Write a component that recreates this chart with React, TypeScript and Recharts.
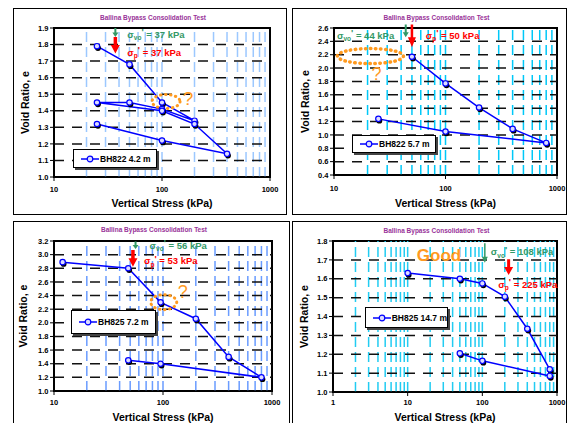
import React from 'react';
import { LineChart, Line, XAxis, YAxis, ReferenceLine, ReferenceDot, ReferenceArea, Legend, Label } from 'recharts';

const FONT = '"Liberation Sans", Arial, Helvetica, sans-serif';

// ---- data ----
// BH822 4.2 m
const bh822a_stress = [25, 50, 100, 200, 100, 50, 25, 100, 200, 400, 100, 25];
const bh822a_void = [1.79, 1.68, 1.45, 1.34, 1.41, 1.45, 1.45, 1.40, 1.32, 1.14, 1.22, 1.32];
// BH822 5.7 m
const bh822b_stress = [50, 100, 200, 400, 800, 100, 25];
const bh822b_void = [2.17, 1.77, 1.41, 1.09, 0.88, 1.05, 1.24];
// BH825 7.2 m
const bh825a_stress = [12, 48, 95, 200, 400, 800, 95, 48];
const bh825a_void = [2.89, 2.8, 2.3, 2.06, 1.5, 1.2, 1.4, 1.45];
// BH825 14.7 m
const bh825b_stress = [10, 50, 100, 200, 400, 800, 800, 100, 50];
const bh825b_void = [1.63, 1.6, 1.575, 1.505, 1.335, 1.12, 1.085, 1.165, 1.205];

// ---- tick labels ----
const xTicks3 = [10, 100, 1000];
const xTicks4 = [1, 10, 100, 1000];
const yTicks822a = [1.0, 1.1, 1.2, 1.3, 1.4, 1.5, 1.6, 1.7, 1.8, 1.9];
const yTicks822b = [0.4, 0.6, 0.8, 1.0, 1.2, 1.4, 1.6, 1.8, 2.0, 2.2, 2.4, 2.6];
const yTicks825a = [1.0, 1.2, 1.4, 1.6, 1.8, 2.0, 2.2, 2.4, 2.6, 2.8, 3.0, 3.2];
const yTicks825b = [1.0, 1.1, 1.2, 1.3, 1.4, 1.5, 1.6, 1.7, 1.8];

const labels = ['BH822 4.2 m', 'BH822 5.7 m', 'BH825 7.2 m', 'BH825 14.7 m'];
const titleText = 'Ballina Bypass Consolidation Test';

const GREEN = '#339966';
const RED = '#ff0000';
const ORANGE = '#ff9a1f';

type ArrowSpec = { x: number; color: string; from: number; to: number; shaft: number; headW: number; headL: number };
type NoteSpec = { x: number; color: string; sub: string; value: string; dx: number; dy: number; anchor: 'start' | 'end' };
type EllipseSpec = { x: number; y: number; rx: number; ry: number; qdx: number; qdy: number; qsize: number; sw: number };

type PanelCfg = {
  stress: number[];
  voids: number[];
  label: string;
  box: { left: number; top: number; w: number; h: number };
  margin: { top: number; right: number };
  yw: number;
  xh: number;
  xDomain: [number, number];
  xTicks: number[];
  yTicks: number[];
  grid: string;
  tickMargin: number;
  xLabelOffset: number;
  yLabelOffset: number;
  title: { cx: number; cy: number };
  legend: { left: number; top: number; w: number; h: number };
  arrows: ArrowSpec[];
  notes: NoteSpec[];
  ellipse?: EllipseSpec;
  good?: { x: number; dy: number };
};

function minorX(domain: [number, number]) {
  const out: number[] = [];
  for (let d = domain[0]; d < domain[1]; d *= 10) {
    for (let k = 1; k <= 9; k++) {
      const v = d * k;
      if (v > domain[0] && v < domain[1]) out.push(v);
    }
  }
  return out;
}

function minorY(ticks: number[]) {
  const out: number[] = [];
  const step = ticks[1] - ticks[0];
  for (let i = 0; i < ticks.length - 1; i++) {
    for (let k = 1; k < 5; k++) out.push(+(ticks[i] + (step * k) / 5).toFixed(4));
  }
  return out;
}

function arrowShape(a: ArrowSpec) {
  return (props: any) => {
    const cx = Number(props.x1);
    const top = Math.min(Number(props.y1), Number(props.y2));
    const y0 = top + a.from;
    const y1 = top + a.to;
    const yh = y1 - a.headL;
    const pts = [
      [cx - a.shaft / 2, y0],
      [cx + a.shaft / 2, y0],
      [cx + a.shaft / 2, yh],
      [cx + a.headW / 2, yh],
      [cx, y1],
      [cx - a.headW / 2, yh],
      [cx - a.shaft / 2, yh],
    ]
      .map((p) => p.join(','))
      .join(' ');
    return <polygon points={pts} fill={a.color} />;
  };
}

function noteShape(n: NoteSpec) {
  return (props: any) => {
    const cx = Number(props.x1);
    const top = Math.min(Number(props.y1), Number(props.y2));
    return (
      <text
        x={cx + n.dx}
        y={top + n.dy}
        fill={n.color}
        fontSize={9.5}
        fontWeight="bold"
        fontFamily={FONT}
        textAnchor={n.anchor}
      >
        σ
        <tspan dy={2.5} fontSize={6.5}>
          {n.sub}
        </tspan>
        <tspan dy={-5} fontSize={9.5}>
          '
        </tspan>
        <tspan dy={2.5}>{` = ${n.value} kPa`}</tspan>
      </text>
    );
  };
}

function ellipseShape(e: EllipseSpec) {
  return (props: any) => {
    const cx = Number(props.cx);
    const cy = Number(props.cy);
    return (
      <g>
        <ellipse
          cx={cx}
          cy={cy}
          rx={e.rx}
          ry={e.ry}
          fill="none"
          stroke={ORANGE}
          strokeWidth={e.sw}
          strokeDasharray="0.5 4.5"
          strokeLinecap="round"
        />
        <text
          x={cx + e.qdx}
          y={cy + e.qdy}
          fill={ORANGE}
          fontSize={e.qsize}
          fontFamily={FONT}
          textAnchor="middle"
          dominantBaseline="central"
        >
          ?
        </text>
      </g>
    );
  };
}

function goodShape(dy: number) {
  return (props: any) => {
    const cx = Number(props.x1);
    const top = Math.min(Number(props.y1), Number(props.y2));
    return (
      <text
        x={cx}
        y={top + dy}
        fill={ORANGE}
        fontSize={17}
        fontWeight="bold"
        fontFamily={FONT}
        textAnchor="middle"
        dominantBaseline="central"
      >
        Good
      </text>
    );
  };
}

const renderDot = (props: any) => {
  const { cx, cy, index } = props;
  if (cx == null || cy == null) return <g key={`d${index}`} />;
  return (
    <g key={`d${index}`}>
      <circle cx={cx + 1} cy={cy + 1.8} r={2.9} fill="#000" />
      <circle cx={cx} cy={cy} r={2.7} fill="#dcdcff" stroke="#0000ff" strokeWidth={1.2} />
    </g>
  );
};

const emptyTick = () => <g />;

const LegendBox = ({ label, w, h }: { label: string; w: number; h: number }) => (
  <div
    style={{
      width: w,
      height: h,
      boxSizing: 'border-box',
      border: '1px solid #000',
      boxShadow: '2px 2px 0 #444',
      background: '#fff',
      display: 'flex',
      alignItems: 'center',
      paddingLeft: 7,
      fontFamily: FONT,
      fontSize: 8.5,
      fontWeight: 'bold',
      color: '#000',
      whiteSpace: 'nowrap',
    }}
  >
    <svg width={18} height={10} style={{ display: 'block' }}>
      <line x1={0} y1={5} x2={18} y2={5} stroke="#0000ff" strokeWidth={1.5} />
      <circle cx={9} cy={5} r={2.8} fill="#dcdcff" stroke="#0000ff" strokeWidth={1.2} />
    </svg>
    <span style={{ marginLeft: 1 }}>{label}</span>
  </div>
);

const tickStyle = { fontSize: 7.5, fontWeight: 'bold' as const, fill: '#000', fontFamily: FONT };

function Panel({ cfg }: { cfg: PanelCfg }) {
  const data = cfg.stress.map((s, i) => ({ s, e: cfg.voids[i] }));
  const yDomain: [number, number] = [cfg.yTicks[0], cfg.yTicks[cfg.yTicks.length - 1]];
  const vLines = minorX(cfg.xDomain);
  const hLines = cfg.yTicks.slice(1, -1);
  const { box } = cfg;
  return (
    <div style={{ position: 'absolute', left: box.left, top: box.top, width: box.w, height: box.h }}>
      <div
        style={{
          position: 'absolute',
          left: 0,
          top: 0,
          width: box.w,
          height: box.h,
          border: '1px solid #000',
          boxSizing: 'border-box',
          background: '#fff',
        }}
      />
      <div
        style={{
          position: 'absolute',
          left: cfg.title.cx - 100,
          top: cfg.title.cy - 4,
          width: 200,
          height: 8,
          lineHeight: '8px',
          textAlign: 'center',
          fontFamily: FONT,
          fontSize: 6.5,
          fontWeight: 'bold',
          color: '#993399',
          whiteSpace: 'nowrap',
        }}
      >
        {titleText}
      </div>
      <div style={{ position: 'absolute', left: 0, top: 0 }}>
        <LineChart width={box.w} height={box.h} margin={{ top: cfg.margin.top, right: cfg.margin.right, bottom: 0, left: 0 }}>
          <XAxis
            dataKey="s"
            type="number"
            scale="log"
            domain={cfg.xDomain}
            ticks={cfg.xTicks}
            interval={0}
            allowDataOverflow
            height={cfg.xh}
            tickSize={4}
            tickMargin={cfg.tickMargin}
            tick={tickStyle}
            stroke="#000"
            axisLine={{ stroke: '#000', strokeWidth: 1.5 }}
          >
            <Label
              value="Vertical Stress (kPa)"
              position="insideBottom"
              offset={cfg.xLabelOffset}
              style={{ fontSize: 10.5, fontWeight: 'bold', fill: '#000', fontFamily: FONT }}
            />
          </XAxis>
          <XAxis
            xAxisId="m"
            dataKey="s"
            type="number"
            scale="log"
            domain={cfg.xDomain}
            ticks={vLines}
            interval={0}
            allowDataOverflow
            height={0}
            mirror
            tickSize={3}
            tick={emptyTick}
            axisLine={false}
            tickLine={{ stroke: '#000' }}
          />
          <YAxis
            type="number"
            domain={yDomain}
            ticks={cfg.yTicks}
            interval={0}
            allowDataOverflow
            width={cfg.yw}
            tickSize={4}
            tickMargin={1.5}
            tick={tickStyle}
            tickFormatter={(v: number) => v.toFixed(1)}
            stroke="#000"
            axisLine={{ stroke: '#000', strokeWidth: 1.5 }}
          >
            <Label
              value="Void Ratio, e"
              angle={-90}
              position="insideLeft"
              offset={cfg.yLabelOffset}
              style={{ fontSize: 10.5, fontWeight: 'bold', fill: '#000', fontFamily: FONT, textAnchor: 'middle' }}
            />
          </YAxis>
          <YAxis
            yAxisId="m"
            type="number"
            domain={yDomain}
            ticks={minorY(cfg.yTicks)}
            interval={0}
            allowDataOverflow
            width={0}
            mirror
            tickSize={3}
            tick={emptyTick}
            axisLine={false}
            tickLine={{ stroke: '#000' }}
          />
          {vLines.map((v) => (
            <ReferenceLine key={`v${v}`} x={v} stroke={cfg.grid} strokeWidth={1.5} strokeDasharray="10 5" />
          ))}
          {hLines.map((v) => (
            <ReferenceLine key={`h${v}`} y={v} stroke="#111" strokeWidth={1.5} strokeDasharray="10 8" />
          ))}
          <ReferenceArea
            x1={cfg.xDomain[0]}
            x2={cfg.xDomain[1]}
            y1={yDomain[0]}
            y2={yDomain[1]}
            fill="none"
            fillOpacity={0}
            stroke="#000"
            strokeWidth={2}
          />
          <Line
            data={data}
            dataKey="e"
            stroke="#0000ff"
            strokeWidth={1.5}
            dot={renderDot}
            activeDot={false}
            isAnimationActive={false}
            legendType="circle"
          />
          {cfg.arrows.map((a, i) => (
            <ReferenceLine key={`a${i}`} x={a.x} stroke="none" shape={arrowShape(a)} />
          ))}
          {cfg.notes.map((n, i) => (
            <ReferenceLine key={`n${i}`} x={n.x} stroke="none" shape={noteShape(n)} />
          ))}
          {cfg.good && <ReferenceLine x={cfg.good.x} stroke="none" shape={goodShape(cfg.good.dy)} />}
          {cfg.ellipse && (
            <ReferenceDot x={cfg.ellipse.x} y={cfg.ellipse.y} r={1} shape={ellipseShape(cfg.ellipse)} />
          )}
          <Legend
            layout="vertical"
            align="center"
            verticalAlign="middle"
            wrapperStyle={{
              left: cfg.legend.left,
              top: cfg.legend.top,
              width: cfg.legend.w,
              height: cfg.legend.h,
              margin: 0,
              padding: 0,
            }}
            content={() => <LegendBox label={cfg.label} w={cfg.legend.w} h={cfg.legend.h} />}
          />
        </LineChart>
      </div>
    </div>
  );
}

const panels: PanelCfg[] = [
  {
    stress: bh822a_stress,
    voids: bh822a_void,
    label: labels[0],
    box: { left: 13, top: 8, w: 274, h: 207 },
    margin: { top: 20, right: 17 },
    yw: 41,
    xh: 38,
    xDomain: [10, 1000],
    xTicks: xTicks3,
    yTicks: yTicks822a,
    grid: '#9cc8ff',
    tickMargin: 6,
    xLabelOffset: 8,
    yLabelOffset: 12,
    title: { cx: 140, cy: 9.5 },
    legend: { left: 60, top: 141, w: 84, h: 19 },
    arrows: [
      { x: 37, color: GREEN, from: 0, to: 9, shaft: 2, headW: 6, headL: 4.5 },
      { x: 37, color: RED, from: 9, to: 25.5, shaft: 3.5, headW: 9, headL: 8.5 },
    ],
    notes: [
      { x: 37, color: GREEN, sub: 'vo', value: '37', dx: 12, dy: 9.5, anchor: 'start' },
      { x: 37, color: RED, sub: 'p', value: '37', dx: 12, dy: 27.5, anchor: 'start' },
    ],
    ellipse: { x: 109, y: 1.456, rx: 14, ry: 7, qdx: 22, qdy: -3.5, qsize: 19, sw: 3 },
  },
  {
    stress: bh822b_stress,
    voids: bh822b_void,
    label: labels[1],
    box: { left: 292, top: 8, w: 275, h: 207 },
    margin: { top: 20, right: 10 },
    yw: 42,
    xh: 40,
    xDomain: [10, 1000],
    xTicks: xTicks3,
    yTicks: yTicks822b,
    grid: '#00c8f8',
    tickMargin: 7,
    xLabelOffset: 8.5,
    yLabelOffset: 13.5,
    title: { cx: 144.5, cy: 9.5 },
    legend: { left: 60, top: 127, w: 84, h: 18 },
    arrows: [
      { x: 44, color: GREEN, from: -3.5, to: 9.2, shaft: 2, headW: 6, headL: 5 },
      { x: 50, color: RED, from: -3.5, to: 19.2, shaft: 2.5, headW: 8, headL: 10 },
    ],
    notes: [
      { x: 44, color: GREEN, sub: 'vo', value: '44', dx: -11.5, dy: 10.5, anchor: 'end' },
      { x: 50, color: RED, sub: 'p', value: '50', dx: 13.8, dy: 10.5, anchor: 'start' },
    ],
    ellipse: { x: 21.2, y: 2.18, rx: 33, ry: 7.5, qdx: 6, qdy: 18, qsize: 18, sw: 3.5 },
  },
  {
    stress: bh825a_stress,
    voids: bh825a_void,
    label: labels[2],
    box: { left: 13, top: 221, w: 277, h: 205 },
    margin: { top: 20, right: 18 },
    yw: 41,
    xh: 35,
    xDomain: [10, 1000],
    xTicks: xTicks3,
    yTicks: yTicks825a,
    grid: '#6a9cff',
    tickMargin: 5,
    xLabelOffset: 5,
    yLabelOffset: 10.5,
    title: { cx: 141, cy: 9 },
    legend: { left: 58, top: 89, w: 85, h: 24 },
    arrows: [
      { x: 56, color: GREEN, from: 0.5, to: 8, shaft: 2, headW: 6, headL: 4 },
      { x: 53, color: RED, from: 9, to: 25.7, shaft: 3.5, headW: 9, headL: 8.5 },
    ],
    notes: [
      { x: 56, color: GREEN, sub: 'vo', value: '56', dx: 14, dy: 7.5, anchor: 'start' },
      { x: 53, color: RED, sub: 'p', value: '53', dx: 11, dy: 23, anchor: 'start' },
    ],
    ellipse: { x: 101.5, y: 2.303, rx: 13, ry: 7.5, qdx: 19, qdy: -10, qsize: 18, sw: 3 },
  },
  {
    stress: bh825b_stress,
    voids: bh825b_void,
    label: labels[3],
    box: { left: 292, top: 221, w: 275, h: 205 },
    margin: { top: 20, right: 10 },
    yw: 41,
    xh: 34,
    xDomain: [1, 1000],
    xTicks: xTicks4,
    yTicks: yTicks825b,
    grid: '#22ccf2',
    tickMargin: 4,
    xLabelOffset: 5,
    yLabelOffset: 12.5,
    title: { cx: 144.5, cy: 9.7 },
    legend: { left: 73, top: 86, w: 83, h: 21 },
    arrows: [
      { x: 108, color: GREEN, from: 2.3, to: 21.7, shaft: 1.5, headW: 6, headL: 6 },
      { x: 225, color: RED, from: 18.3, to: 34, shaft: 3, headW: 9, headL: 8 },
    ],
    notes: [
      { x: 108, color: GREEN, sub: 'vo', value: '108', dx: 6, dy: 14, anchor: 'start' },
      { x: 225, color: RED, sub: 'p', value: '225', dx: -10.3, dy: 46.5, anchor: 'start' },
    ],
    good: { x: 26.3, dy: 14 },
  },
];

export default function App() {
  return (
    <div style={{ position: 'absolute', left: 0, top: 0, width: 569, height: 423, overflow: 'hidden', background: '#fff' }}>
      {panels.map((p, i) => (
        <Panel key={i} cfg={p} />
      ))}
    </div>
  );
}
